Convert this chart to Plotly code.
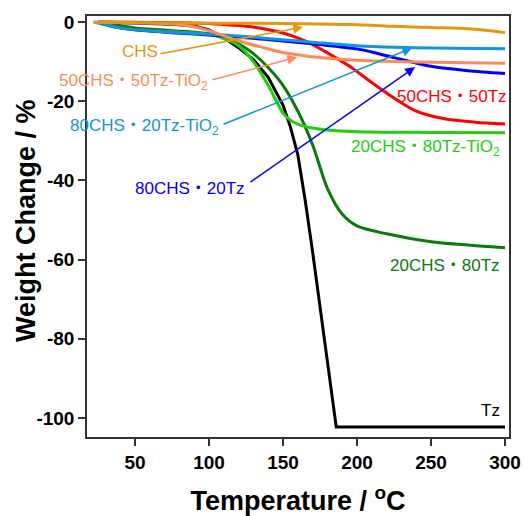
import plotly.graph_objects as go

# ---- data ----
tz_x = [25, 50, 75, 90, 100, 110, 120, 130, 140, 150, 155, 160, 165, 170, 175, 180, 186, 190, 250, 300]
tz_y = [0, -0.3, -0.6, -1.0, -2.0, -4.0, -6.5, -9.5, -14, -21, -26.5, -33.5, -45, -58, -71.5, -85, -102.3, -102.3, -102.3, -102.3]

g80_x = [25, 50, 75, 100, 110, 120, 130, 140, 150, 160, 170, 180, 190, 200, 220, 250, 300]
g80_y = [0, -1.5, -2.2, -3.0, -4.0, -5.5, -8.0, -11.5, -16, -22.5, -31, -42, -48.5, -51.5, -53.5, -55.5, -57]

g80t_x = [22, 40, 60, 80, 100, 110, 120, 130, 140, 150, 155, 160, 170, 180, 200, 250, 300]
g80t_y = [0, -1.5, -2.2, -2.6, -3.2, -4.2, -6.0, -10, -16, -23, -24.8, -25.8, -26.8, -27.3, -27.7, -27.9, -28]

b20_x = [25, 40, 50, 75, 100, 125, 150, 175, 200, 210, 225, 250, 275, 300]
b20_y = [0, -1.5, -2.0, -2.7, -3.3, -4.0, -4.8, -5.7, -6.8, -7.6, -9.0, -11.2, -12.3, -13]

c20t_x = [25, 40, 50, 75, 100, 125, 150, 175, 200, 225, 250, 300]
c20t_y = [0, -1.5, -2.0, -2.6, -3.1, -3.7, -4.5, -5.3, -6.0, -6.4, -6.6, -6.8]

r50_x = [27, 50, 75, 100, 115, 125, 135, 150, 165, 180, 195, 210, 225, 240, 260, 280, 300]
r50_y = [0, -0.1, -0.2, -0.4, -0.8, -1.1, -1.6, -2.8, -4.8, -7.8, -11.2, -15.3, -19.2, -22.5, -24.5, -25.3, -25.8]

chs_x = [25, 50, 100, 150, 200, 225, 250, 275, 290, 300]
chs_y = [0, -0.2, -0.3, -0.4, -0.7, -1.1, -1.4, -1.7, -2.2, -2.7]

s50t_x = [22, 50, 75, 90, 100, 110, 120, 135, 150, 175, 200, 250, 300]
s50t_y = [0, -0.2, -0.5, -1.2, -2.2, -3.5, -4.8, -6.3, -7.7, -9.0, -9.7, -10.2, -10.4]

x_ticks = [50, 100, 150, 200, 250, 300]
x_ticktext = ["50", "100", "150", "200", "250", "300"]
y_ticks = [0, -20, -40, -60, -80, -100]
y_ticktext = ["0", "-20", "-40", "-60", "-80", "-100"]

FONT = "Arial, 'Liberation Sans', 'Noto Sans CJK JP', sans-serif"

series = [
    ("Tz", tz_x, tz_y, "#000000"),
    ("20CHS・80Tz", g80_x, g80_y, "#0a7a0a"),
    ("20CHS・80Tz-TiO2", g80t_x, g80t_y, "#22cc11"),
    ("50CHS・50Tz", r50_x, r50_y, "#ff0000"),
    ("80CHS・20Tz", b20_x, b20_y, "#0000ff"),
    ("80CHS・20Tz-TiO2", c20t_x, c20t_y, "#0f96dc"),
    ("50CHS・50Tz-TiO2", s50t_x, s50t_y, "#ff8a55"),
    ("CHS", chs_x, chs_y, "#e8960c"),
]

fig = go.Figure()
for name, xs, ys, col in series:
    shape = "linear" if name == "Tz" else "spline"
    fig.add_trace(go.Scatter(x=xs, y=ys, mode="lines", name=name,
                             line=dict(color=col, width=3, shape=shape, smoothing=0.8)))

# text labels
labels = [
    ("CHS", 67, -7.5, "#e8960c", "right"),
    ("50CHS・50Tz-TiO<sub>2</sub>", 101, -15.2, "#ff8a55", "right"),
    ("80CHS・20Tz-TiO<sub>2</sub>", 108, -26.5, "#0f96dc", "right"),
    ("80CHS・20Tz", 126, -42.0, "#0000ff", "right"),
    ("50CHS・50Tz", 302.5, -18.7, "#ff0000", "right"),
    ("20CHS・80Tz-TiO<sub>2</sub>", 298, -31.8, "#22cc11", "right"),
    ("20CHS・80Tz", 298, -61.6, "#0a7a0a", "right"),
    ("Tz", 298, -98.0, "#000000", "right"),
]
for txt, x, y, col, anc in labels:
    fig.add_annotation(x=x, y=y, text=txt, showarrow=False, xanchor=anc, yanchor="middle",
                       font=dict(family=FONT, size=17, color=col))

# arrows (tail -> head)
arrows = [
    (66.2, -8.1, 163.5, -1.3, "#e8960c"),
    (101.4, -14.7, 159.5, -8.9, "#ff8a55"),
    (108.8, -26.0, 237.2, -6.6, "#0f96dc"),
    (127.0, -40.7, 239.2, -11.4, "#0000ff"),
]
for tx, ty, hx, hy, col in arrows:
    fig.add_annotation(x=hx, y=hy, ax=tx, ay=ty, axref="x", ayref="y", xref="x", yref="y",
                       text="", showarrow=True, arrowhead=2, arrowsize=1.3, arrowwidth=1.5,
                       arrowcolor=col)

# y-axis title placed as a rotated annotation for exact positioning
fig.add_annotation(x=-0.1445, y=0.513, xref="paper", yref="paper", text="<b>Weight Change / %</b>",
                   textangle=-90, showarrow=False, xanchor="center", yanchor="middle",
                   font=dict(family=FONT, size=27, color="#000000"))

fig.update_layout(
    width=523, height=516,
    margin=dict(l=87, r=14, t=16, b=79),
    paper_bgcolor="white", plot_bgcolor="white",
    showlegend=False,
    font=dict(family=FONT, color="#000000"),
)
fig.update_xaxes(range=[17.6, 302.7], tickvals=x_ticks, ticktext=x_ticktext, ticks="outside",
                 ticklen=7, tickwidth=1.5, tickcolor="#333333", showline=True,
                 linecolor="#333333", linewidth=1.5, mirror=True, showgrid=False,
                 zeroline=False, automargin=False,
                 tickfont=dict(family=FONT, size=19, color="#000000", weight="bold"),
                 title=dict(text="<b>Temperature / <sup>o</sup>C</b>", standoff=25,
                            font=dict(family=FONT, size=27, color="#000000")))
fig.update_yaxes(range=[-104.8, 1.5], tickvals=y_ticks, ticktext=y_ticktext, ticks="outside",
                 ticklen=7, tickwidth=1.5, tickcolor="#333333", showline=True,
                 linecolor="#333333", linewidth=1.5, mirror=True, showgrid=False,
                 zeroline=False, automargin=False,
                 tickfont=dict(family=FONT, size=19, color="#000000", weight="bold"))

# remove the page's default body margin so the figure fills the window exactly
fig.write_html("out.html", config={"displayModeBar": False},
               post_script="document.body.style.margin='0';document.body.style.overflow='hidden';")
